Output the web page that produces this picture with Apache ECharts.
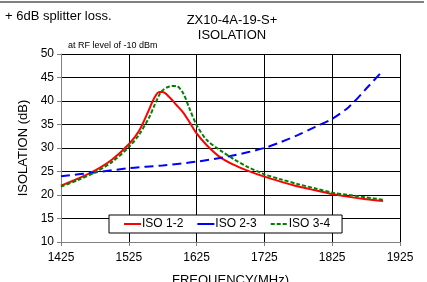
<!DOCTYPE html>
<html><head><meta charset="utf-8">
<script src="https://cdn.jsdelivr.net/npm/echarts@6/dist/echarts.min.js"></script>
<style>html,body{margin:0;padding:0;background:#fff}#c{width:427px;height:282px}</style>
</head><body><div id="c"></div>
<script>
var freqA = [1425,1450,1475,1500,1525,1540,1555,1562,1570,1575,1585,1595,1605,1615,1625,1640,1660,1680,1700,1725,1750,1775,1800,1825,1850,1875,1900];
var iso12 = [22.0,23.5,25.2,27.5,30.8,33.6,38.2,40.5,41.9,41.9,40.8,39.2,37.6,35.4,33.1,30.6,28.0,26.4,25.2,23.9,22.8,21.8,21.0,20.2,19.6,19.1,18.7];
var iso34 = [21.8,23.2,24.8,27.0,30.2,32.8,36.5,38.8,41.3,42.3,43.1,43.2,41.7,38.2,34.9,31.7,29.5,27.6,26.0,24.4,23.3,22.3,21.4,20.5,20.0,19.5,19.0];
var freqB = [1425,1475,1525,1575,1625,1675,1725,1750,1775,1800,1825,1850,1875,1900];
var iso23 = [24.0,24.8,25.7,26.3,27.1,28.3,30.0,31.3,32.8,34.5,36.2,38.8,42.6,46.5];
var xTicks = [1425,1525,1625,1725,1825,1925];
var yTicks = [10,15,20,25,30,35,40,45,50];

function pairs(xs, ys){ return xs.map(function(x,i){ return [x, ys[i]]; }); }
var F = 'Liberation Sans, Arial, sans-serif';
var chart = echarts.init(document.getElementById('c'), null, {renderer:'canvas'});
chart.setOption({
  animation:false,
  backgroundColor:'#fff',
  textStyle:{fontFamily:F},
  title:[
    {text:'ZX10-4A-19-S+\nISOLATION', left:227, top:8, textAlign:'center',
     textStyle:{fontFamily:F,fontSize:13,fontWeight:'normal',color:'#000',lineHeight:15}},
    {text:'+ 6dB splitter loss.', left:0, top:5,
     textStyle:{fontFamily:F,fontSize:13,fontWeight:'normal',color:'#000'}},
    {text:'at RF level of -10 dBm', left:63, top:36,
     textStyle:{fontFamily:F,fontSize:9,fontWeight:'normal',color:'#000'}}
  ],
  graphic:[{type:'line', shape:{x1:0,y1:2,x2:424,y2:2}, style:{stroke:'#000',lineWidth:1}}],
  grid:{left:61, right:27, top:54, bottom:40, show:false, containLabel:false, outerBoundsMode:'none'},
  legend:{
    left:109, top:215, padding:[3,12,3,14], itemGap:13,
    borderColor:'#000', borderWidth:1, backgroundColor:'#fff', borderRadius:0,
    itemWidth:17, itemHeight:2,
    textStyle:{fontFamily:F,fontSize:12,color:'#000',padding:[0,0,0,-4]},
    data:[
      {name:'ISO 1-2'},
      {name:'ISO 2-3', lineStyle:{type:'solid'}},
      {name:'ISO 3-4'}
    ]
  },
  xAxis:{
    type:'value', min:1425, max:1925, interval:100,
    name:'FREQUENCY(MHz)', nameLocation:'middle', nameGap:32,
    nameTextStyle:{fontFamily:F,fontSize:13,color:'#000'},
    axisLine:{show:true,lineStyle:{color:'#808080',width:1}},
    axisTick:{show:true,length:4,lineStyle:{color:'#808080'}},
    axisLabel:{fontFamily:F,fontSize:12,color:'#000',margin:10,
      formatter:function(v){ return xTicks.indexOf(v)>=0 ? String(v) : ''; }},
    splitLine:{show:true,lineStyle:{color:'#000',width:1}}
  },
  yAxis:{
    type:'value', min:10, max:50, interval:5,
    name:'ISOLATION (dB)', nameLocation:'middle', nameGap:30, nameRotate:90,
    nameTextStyle:{fontFamily:F,fontSize:13,color:'#000'},
    axisLine:{show:true,lineStyle:{color:'#808080',width:1}},
    axisTick:{show:true,length:4,lineStyle:{color:'#808080'}},
    axisLabel:{fontFamily:F,fontSize:12,color:'#000',margin:7,
      formatter:function(v){ return yTicks.indexOf(v)>=0 ? String(v) : ''; }},
    splitLine:{show:true,lineStyle:{color:'#000',width:1}}
  },
  series:[
    {name:'ISO 1-2', type:'line', smooth:0.3, symbol:'none', data:pairs(freqA, iso12),
     lineStyle:{color:'#ff0000', width:2}, itemStyle:{color:'#ff0000'}},
    {name:'ISO 2-3', type:'line', smooth:0.3, symbol:'none', data:pairs(freqB, iso23),
     lineStyle:{color:'#0000ff', width:2, type:[9,5]}, itemStyle:{color:'#0000ff'}},
    {name:'ISO 3-4', type:'line', smooth:0.3, symbol:'none', data:pairs(freqA, iso34),
     lineStyle:{color:'#008000', width:2, type:[4,2]}, itemStyle:{color:'#008000'}}
  ]
});
</script></body></html>
